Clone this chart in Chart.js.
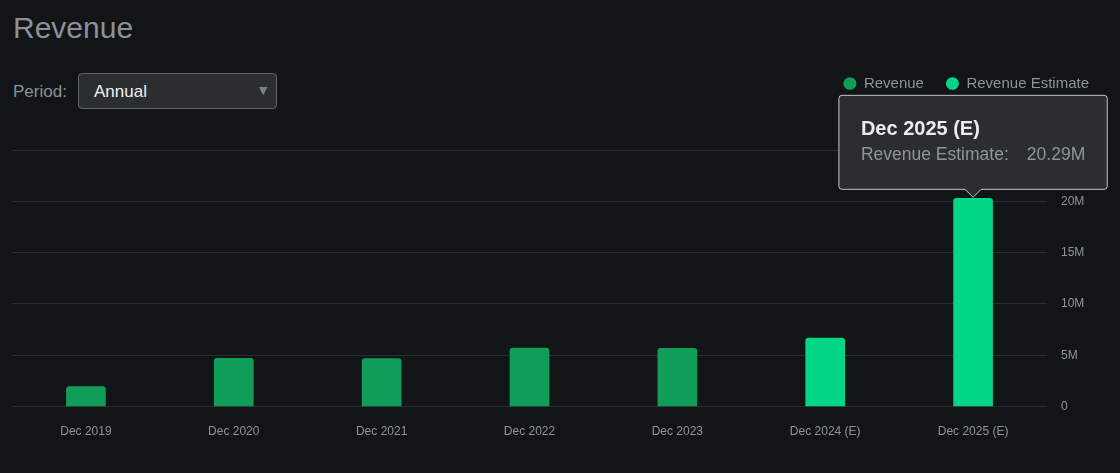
<!DOCTYPE html>
<html>
<head>
<meta charset="utf-8">
<script src="https://cdn.jsdelivr.net/npm/chart.js@4/dist/chart.umd.min.js"></script>
<style>
  html, body { margin: 0; padding: 0; background: #121518; }
  body { width: 1120px; height: 473px; position: relative; overflow: hidden; font-family: 'Liberation Sans', Arial, sans-serif; }
  #title { position: absolute; left: 13px; top: 11px; font-size: 30px; color: #8a9198; }
  #period-label { position: absolute; left: 13px; top: 82px; font-size: 17px; color: #8a9198; }
  #period { position: absolute; left: 78px; top: 73px; width: 199px; height: 36px; box-sizing: border-box;
    background: #2b2e31; border: 1px solid #62676c; border-radius: 4px; }
  #period span { position: absolute; left: 15px; top: 8px; font-size: 17px; color: #f0f0f0; }
  #period i { position: absolute; right: 6px; top: 8px; font-style: normal; font-size: 14px; color: #7c8186; }
  #wrap { position: absolute; left: 0; top: 0; width: 1120px; height: 473px; }
</style>
</head>
<body>
<div id="title">Revenue</div>
<div id="period-label">Period:</div>
<div id="period"><span>Annual</span><i>&#9660;</i></div>
<div id="wrap"><canvas id="revenueChart"></canvas></div>
<script>
// Data
const periods = ['Dec 2019', 'Dec 2020', 'Dec 2021', 'Dec 2022', 'Dec 2023', 'Dec 2024 (E)', 'Dec 2025 (E)'];
const revenue = [1.96e6, 4.70e6, 4.69e6, 5.69e6, 5.67e6, null, null];
const revenueEstimate = [null, null, null, null, null, 6.67e6, 20.29e6];
const yTicks = [0, 5e6, 10e6, 15e6, 20e6, 25e6];

// Colors
const actualColor = '#0f9d58';
const estimateColor = '#00d685';
const gridColor = '#2a2d31';
const textColor = '#8e949a';

Chart.defaults.font.family = "'Liberation Sans', Arial, sans-serif";
Chart.defaults.animation = false;

const fmtM = v => v === 0 ? '0' : (v / 1e6) + 'M';

// push the plot area down below the legend row
const legendSpace = {
    id: 'legendSpace',
    beforeInit(chart) {
        const fit = chart.legend.fit;
        chart.legend.fit = function () {
            fit.call(this);
            this.height = 96;
        };
    }
};

const ctx = document.getElementById('revenueChart').getContext('2d');
const chart = new Chart(ctx, {
    type: 'bar',
    data: {
        labels: periods,
        datasets: [{
            label: 'Revenue',
            data: revenue,
            backgroundColor: actualColor,
            borderRadius: { topLeft: 3, topRight: 3 },
            borderSkipped: 'bottom',
            barThickness: 39
        }, {
            label: 'Revenue Estimate',
            data: revenueEstimate,
            backgroundColor: estimateColor,
            borderRadius: { topLeft: 3, topRight: 3 },
            borderSkipped: 'bottom',
            barThickness: 39
        }]
    },
    options: {
        responsive: true,
        maintainAspectRatio: false,
        layout: { padding: { top: 54, left: 12, right: 9, bottom: 24 } },
        scales: {
            x: {
                stacked: true,
                grid: { display: false },
                border: { display: false },
                ticks: { color: textColor, font: { size: 12 }, padding: 10 }
            },
            y: {
                stacked: true,
                position: 'right',
                min: 0,
                max: 25e6,
                afterBuildTicks: axis => { axis.ticks = yTicks.map(v => ({ value: v })); },
                afterFit: axis => { axis.width = 64; },
                grid: { color: gridColor, drawTicks: false },
                border: { display: false },
                ticks: { color: textColor, font: { size: 12 }, padding: 14, callback: fmtM }
            }
        },
        plugins: {
            legend: {
                position: 'top',
                align: 'end',
                labels: {
                    color: textColor,
                    font: { size: 15 },
                    usePointStyle: true,
                    pointStyle: 'circle',
                    pointStyleWidth: 13,
                    boxHeight: 9,
                    padding: 22
                }
            },
            tooltip: {
                backgroundColor: '#2b2e31',
                borderColor: '#c4c6c8',
                borderWidth: 1,
                cornerRadius: 3,
                displayColors: false,
                xAlign: 'center',
                yAlign: 'bottom',
                caretSize: 8,
                caretPadding: 1,
                padding: { top: 22, bottom: 24, left: 22, right: 22 },
                titleColor: '#ececec',
                titleFont: { size: 20, weight: 'bold' },
                titleMarginBottom: 3,
                bodyColor: '#8e949a',
                bodyFont: { size: 17.5 },
                callbacks: {
                    label: c => c.dataset.label + ':   \u2009' + (c.raw / 1e6).toFixed(2) + 'M'
                }
            }
        }
    },
    plugins: [legendSpace]
});

// Show the tooltip on the last estimate bar
const bar = chart.getDatasetMeta(1).data[6];
chart.tooltip.setActiveElements([{ datasetIndex: 1, index: 6 }], { x: bar.x, y: bar.y });
chart.update();
</script>
</body>
</html>
